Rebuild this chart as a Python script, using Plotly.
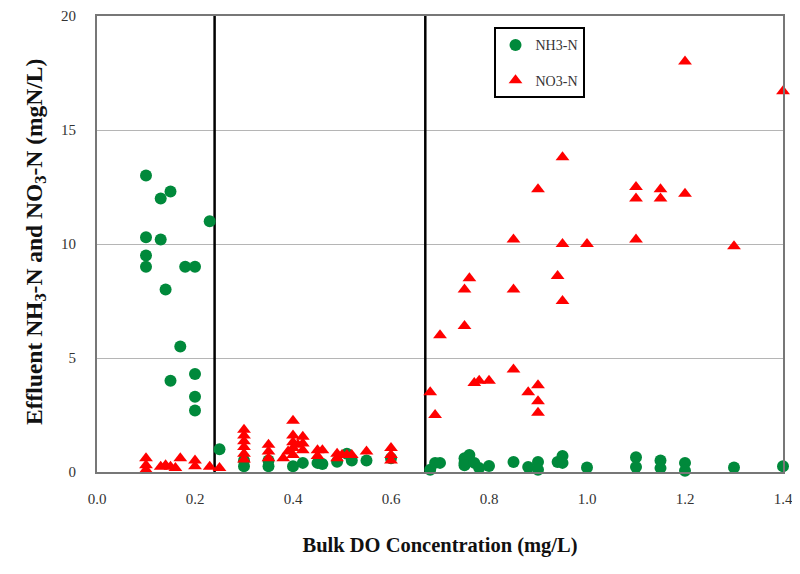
import plotly.graph_objects as go

# ---------------------------------------------------------------------------
# Data
# ---------------------------------------------------------------------------

nh3_do = [
    0.10, 0.13, 0.15, 0.23, 0.10, 0.13, 0.10, 0.10, 0.18, 0.20,
    0.14, 0.17, 0.15, 0.20, 0.20, 0.20, 0.25,
    0.30, 0.30, 0.35, 0.35, 0.40, 0.42, 0.45, 0.46, 0.49, 0.51, 0.52, 0.55, 0.60,
    0.68, 0.69, 0.70, 0.75, 0.75, 0.76, 0.75, 0.77, 0.78, 0.80,
    0.85, 0.88, 0.90, 0.90, 0.94, 0.95, 0.95, 1.00, 1.10, 1.10,
    1.15, 1.15, 1.20, 1.20, 1.30, 1.40,
]
nh3_conc = [
    13.0, 12.0, 12.3, 11.0, 10.3, 10.2, 9.5, 9.0, 9.0, 9.0,
    8.0, 5.5, 4.0, 4.3, 3.3, 2.7, 1.0,
    0.25, 0.5, 0.25, 0.5, 0.25, 0.4, 0.4, 0.35, 0.45, 0.8, 0.5, 0.5, 0.6,
    0.1, 0.4, 0.4, 0.4, 0.6, 0.75, 0.3, 0.4, 0.17, 0.26,
    0.44, 0.22, 0.44, 0.1, 0.44, 0.7, 0.4, 0.2, 0.65, 0.22,
    0.5, 0.17, 0.4, 0.05, 0.2, 0.25,
]

no3_do = [
    0.10, 0.10, 0.10, 0.13, 0.14, 0.15, 0.17, 0.16, 0.20, 0.20, 0.23, 0.25,
    0.30, 0.30, 0.30, 0.30, 0.30, 0.30,
    0.35, 0.35, 0.35,
    0.40, 0.40, 0.40, 0.40, 0.40, 0.39, 0.41, 0.38,
    0.42, 0.42, 0.42,
    0.45, 0.46, 0.45, 0.49, 0.49, 0.50, 0.51, 0.52, 0.55, 0.60, 0.60, 0.60,
    0.95, 0.90, 1.10, 1.10, 1.15, 1.15, 1.20, 1.20, 1.40,
    0.85, 0.95, 1.00, 1.10, 1.30, 0.94, 0.76, 0.75, 0.85, 0.95, 0.75, 0.70,
    0.85, 0.77, 0.78, 0.80, 0.68, 0.88, 0.90, 0.90, 0.90, 0.69,
]
no3_conc = [
    0.6, 0.3, 0.1, 0.23, 0.3, 0.23, 0.6, 0.17, 0.5, 0.25, 0.23, 0.17,
    1.85, 1.6, 1.35, 1.1, 0.8, 0.55,
    1.2, 0.9, 0.6,
    2.25, 1.6, 1.3, 1.05, 0.75, 0.9, 1.2, 0.6,
    1.55, 1.25, 0.95,
    0.95, 0.95, 0.7, 0.8, 0.6, 0.75, 0.75, 0.75, 0.9, 1.05, 0.75, 0.5,
    13.8, 12.4, 12.5, 12.0, 12.4, 12.0, 12.2, 18.0, 16.7,
    10.2, 10.0, 10.0, 10.2, 9.9, 8.6, 8.5, 8.0, 8.0, 7.5, 6.4, 6.0,
    4.5, 3.9, 4.0, 4.0, 3.5, 3.5, 3.8, 3.1, 2.6, 2.5,
]

# DO boundaries separating the three regimes
boundary_do = [0.24, 0.67]

x_ticks = [0.0, 0.2, 0.4, 0.6, 0.8, 1.0, 1.2, 1.4]
y_ticks = [0, 5, 10, 15, 20]

SERIF = "Liberation Serif, Times New Roman, serif"

# ---------------------------------------------------------------------------
# Figure
# ---------------------------------------------------------------------------

fig = go.Figure()

# vertical regime boundaries
for b in boundary_do:
    fig.add_trace(go.Scatter(
        x=[b, b], y=[0, 20], mode="lines",
        line=dict(color="black", width=2.5),
        showlegend=False, hoverinfo="skip",
    ))

fig.add_trace(go.Scatter(
    x=nh3_do, y=nh3_conc, mode="markers", name="NH3-N",
    legendgroup="a", cliponaxis=False,
    marker=dict(symbol="circle", size=12, color="#00893b"),
))
fig.add_trace(go.Scatter(
    x=no3_do, y=no3_conc, mode="markers", name="NO3-N",
    legendgroup="b", cliponaxis=False,
    marker=dict(symbol="triangle-up", size=12, color="#ff0000"),
))

# the page body keeps its 8px margin, so the figure is 8px smaller
fig.update_layout(
    width=792, height=566,
    margin=dict(l=89, r=17, t=8, b=102),
    paper_bgcolor="white",
    plot_bgcolor="white",
    font=dict(family=SERIF, size=15, color="#333"),
    legend=dict(
        x=0.578, y=0.975, xanchor="left", yanchor="top",
        bgcolor="white", bordercolor="black", borderwidth=2,
        font=dict(family=SERIF, size=14, color="#333"),
        traceorder="grouped", tracegroupgap=14,
        itemwidth=30,
    ),
    annotations=[
        dict(
            text="<b>Effluent NH<sub>3</sub>-N and NO<sub>3</sub>-N (mgN/L)</b>",
            xref="paper", yref="paper", x=-0.09, y=0.505,
            xanchor="center", yanchor="middle", textangle=-90,
            showarrow=False,
            font=dict(family=SERIF, size=23.5, color="#111"),
        ),
    ],
)

fig.update_xaxes(
    range=[0, 1.4], tickvals=x_ticks, ticktext=[f"{v:.1f}" for v in x_ticks],
    showgrid=False, zeroline=False, automargin=False,
    showline=True, linecolor="#777", linewidth=2, mirror=True,
    ticks="", ticklabelstandoff=12,
    title=dict(
        text="<b>Bulk DO Concentration (mg/L)</b>",
        font=dict(family=SERIF, size=20.5, color="#111"),
        standoff=32,
    ),
)
fig.update_yaxes(
    range=[0, 20], tickvals=y_ticks,
    showgrid=True, gridcolor="#b5b5b5", gridwidth=1, zeroline=False,
    automargin=False,
    showline=True, linecolor="#777", linewidth=2, mirror=True,
    ticks="", ticklabelstandoff=16,
)

fig.write_html("out.html")
